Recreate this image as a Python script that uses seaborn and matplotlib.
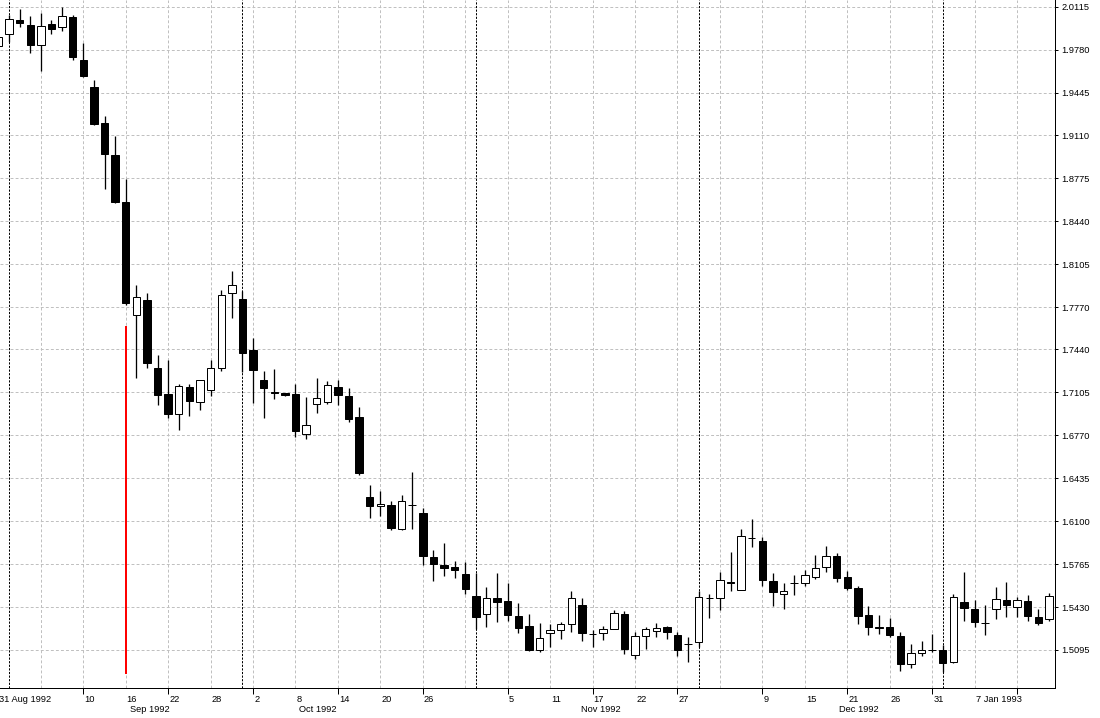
import numpy as np
import pandas as pd
import matplotlib
matplotlib.use('Agg')
import matplotlib.pyplot as plt
import seaborn as sns

# daily bars, 31 Aug 1992 .. mid Jan 1993 (one entry per trading day)
opens = [1.9811, 1.9904, 2.0011, 1.9972, 1.9819, 1.9980, 1.9954, 2.0035, 1.9699, 1.9488,
         1.9207, 1.8958, 1.8591, 1.7707, 1.7826, 1.7296, 1.7093, 1.6934, 1.7145, 1.7033,
         1.7122, 1.7293, 1.7881, 1.7834, 1.7436, 1.7202, 1.7105, 1.7098, 1.7093, 1.6778,
         1.7012, 1.7033, 1.7147, 1.7077, 1.6911, 1.6289, 1.6216, 1.6227, 1.6037, 1.6224,
         1.6164, 1.5821, 1.5758, 1.5743, 1.5688, 1.5517, 1.5374, 1.5501, 1.5477, 1.5360,
         1.5282, 1.5093, 1.5230, 1.5249, 1.5296, 1.5444, 1.5222, 1.5225, 1.5257, 1.5374,
         1.5054, 1.5202, 1.5246, 1.5272, 1.5212, 1.5142, 1.5160, 1.5504, 1.5503, 1.5622,
         1.5561, 1.5971, 1.5946, 1.5634, 1.5534, 1.5618, 1.5620, 1.5667, 1.5739, 1.5826,
         1.5665, 1.5579, 1.5366, 1.5275, 1.5275, 1.5204, 1.4984, 1.5069, 1.5096, 1.5095,
         1.5001, 1.5470, 1.5415, 1.5304, 1.5417, 1.5485, 1.5428, 1.5477, 1.5350, 1.5335]
highs = [1.9894, 2.0050, 2.0097, 2.0042, 2.0066, 2.0011, 2.0115, 2.0050, 1.9829, 1.9543,
         1.9262, 1.9106, 1.8770, 1.7943, 1.7881, 1.7397, 1.7360, 1.7171, 1.7171, 1.7202,
         1.7358, 1.7904, 1.8053, 1.7897, 1.7530, 1.7272, 1.7288, 1.7103, 1.7171, 1.7069,
         1.7218, 1.7194, 1.7200, 1.7137, 1.6991, 1.6383, 1.6336, 1.6258, 1.6305, 1.6484,
         1.6203, 1.5875, 1.5930, 1.5790, 1.5782, 1.5698, 1.5587, 1.5698, 1.5620, 1.5462,
         1.5376, 1.5303, 1.5298, 1.5316, 1.5556, 1.5500, 1.5251, 1.5282, 1.5407, 1.5399,
         1.5238, 1.5275, 1.5306, 1.5285, 1.5236, 1.5197, 1.5556, 1.5534, 1.5704, 1.5860,
         1.6039, 1.6117, 1.5975, 1.5696, 1.5618, 1.5680, 1.5719, 1.5836, 1.5907, 1.5854,
         1.5712, 1.5592, 1.5438, 1.5366, 1.5345, 1.5238, 1.5142, 1.5165, 1.5220, 1.5134,
         1.5534, 1.5704, 1.5485, 1.5446, 1.5584, 1.5626, 1.5511, 1.5524, 1.5415, 1.5538]
lows = [1.9801, 1.9842, 1.9959, 1.9756, 1.9613, 1.9904, 1.9928, 1.9699, 1.9564, 1.9194,
        1.8695, 1.8583, 1.7787, 1.7220, 1.7298, 1.7009, 1.6908, 1.6814, 1.6923, 1.6970,
        1.7075, 1.7275, 1.7688, 1.7262, 1.7025, 1.6908, 1.7056, 1.7077, 1.6755, 1.6744,
        1.6947, 1.7012, 1.7005, 1.6872, 1.6458, 1.6127, 1.6143, 1.6034, 1.6035, 1.6042,
        1.5756, 1.5636, 1.5675, 1.5659, 1.5534, 1.5257, 1.5277, 1.5316, 1.5321, 1.5225,
        1.5090, 1.5082, 1.5116, 1.5179, 1.5238, 1.5165, 1.5121, 1.5176, 1.5256, 1.5066,
        1.5027, 1.5105, 1.5194, 1.5183, 1.5051, 1.5004, 1.5121, 1.5342, 1.5410, 1.5558,
        1.5560, 1.5901, 1.5595, 1.5438, 1.5417, 1.5527, 1.5595, 1.5652, 1.5704, 1.5626,
        1.5563, 1.5296, 1.5210, 1.5222, 1.5199, 1.4934, 1.4957, 1.5051, 1.5082, 1.4926,
        1.4996, 1.5324, 1.5277, 1.5214, 1.5339, 1.5355, 1.5355, 1.5324, 1.5292, 1.5319]
closes = [1.9876, 2.0017, 1.9990, 1.9819, 1.9962, 1.9943, 2.0040, 1.9725, 1.9577, 1.9202,
          1.8968, 1.8593, 1.7800, 1.7847, 1.7337, 1.7087, 1.6939, 1.7153, 1.7040, 1.7200,
          1.7293, 1.7863, 1.7941, 1.7415, 1.7282, 1.7142, 1.7097, 1.7087, 1.6806, 1.6849,
          1.7059, 1.7161, 1.7087, 1.6900, 1.6479, 1.6221, 1.6234, 1.6049, 1.6255, 1.6223,
          1.5831, 1.5769, 1.5737, 1.5722, 1.5571, 1.5355, 1.5501, 1.5472, 1.5370, 1.5269,
          1.5095, 1.5189, 1.5249, 1.5296, 1.5499, 1.5230, 1.5218, 1.5257, 1.5382, 1.5105,
          1.5202, 1.5257, 1.5264, 1.5233, 1.5097, 1.5141, 1.5506, 1.5500, 1.5639, 1.5619,
          1.5982, 1.5967, 1.5644, 1.5550, 1.5556, 1.5617, 1.5678, 1.5733, 1.5826, 1.5659,
          1.5581, 1.5363, 1.5277, 1.5264, 1.5214, 1.4988, 1.5069, 1.5093, 1.5098, 1.4996,
          1.5506, 1.5425, 1.5316, 1.5302, 1.5491, 1.5444, 1.5485, 1.5363, 1.5303, 1.5514]

# red vertical marker on 16 Sep 1992
marker_bar = 12
marker_low = 1.4908
marker_high = 1.7623

price_ticks = [2.0115, 1.9780, 1.9445, 1.9110, 1.8775, 1.8440, 1.8105, 1.7770,
               1.7440, 1.7105, 1.6770, 1.6435, 1.6100, 1.5765, 1.5430, 1.5095]

# first bar of each month
month_start_bars = [1, 23, 45, 66, 89]

date_label_bars = [0, 8, 12, 16, 20, 24, 28, 32, 36, 40, 48, 52, 56, 60, 64,
                   72, 76, 80, 84, 88, 92]
date_labels = ['31 Aug 1992', '10', '16', '22', '28', '2', '8', '14', '20', '26',
               '5', '11', '17', '22', '27', '9', '15', '21', '26', '31', '7 Jan 1993']
month_label_bars = [12.38, 28.33, 54.88, 79.26]
month_labels = ['Sep 1992', 'Oct 1992', 'Nov 1992', 'Dec 1992']

df = pd.DataFrame({'open': opens, 'high': highs, 'low': lows, 'close': closes})
df['bar'] = np.arange(len(df))
df['up'] = df['close'] >= df['open']

sns.set_theme(style='white')
plt.rcParams['font.family'] = ['Liberation Sans', 'DejaVu Sans']
plt.rcParams['font.size'] = 6.7

px = 0.72  # one pixel in points at 100 dpi

fig = plt.figure(figsize=(11, 7.18), dpi=100)
ax = fig.add_axes([0, 0.0414, 0.9588, 0.9586])
ax.set_facecolor('white')

# grid every 4 bars and at each price level
for b in range(4, len(df), 4):
    ax.axvline(b, color='#c0c0c0', lw=px, dashes=(4 * px, 3 * px), zorder=0)
for p in price_ticks:
    ax.axhline(p, color='#c0c0c0', lw=px, dashes=(4 * px, 3 * px), zorder=0)

# period separators
for b in month_start_bars:
    ax.axvline(b, color='black', lw=px, dashes=(3 * px, 2 * px), zorder=1)

# candles
ax.vlines(df['bar'], df['low'], df['high'], color='black', lw=1.3 * px, zorder=2)
body_bottom = df[['open', 'close']].min(axis=1)
body_height = (df['close'] - df['open']).abs().clip(lower=0.00005)
ax.bar(df['bar'], body_height, bottom=body_bottom, width=0.7,
       color=np.where(df['up'], 'white', 'black'), edgecolor='black',
       linewidth=px, zorder=3)

ax.vlines(marker_bar, marker_low, marker_high, color='red', lw=2 * px, zorder=4)

ax.set_xlim(0.151, 99.55)
ax.set_ylim(1.47962, 2.01673)

for side in ['top', 'left']:
    ax.spines[side].set_visible(False)
for side in ['right', 'bottom']:
    ax.spines[side].set_visible(True)
    ax.spines[side].set_color('black')
    ax.spines[side].set_linewidth(px)

ax.yaxis.tick_right()
ax.set_yticks(price_ticks, labels=[f'{p:.4f}' for p in price_ticks])
ax.tick_params(axis='y', right=True, left=False, direction='out', length=3 * px,
               width=px, pad=2.5, colors='black', labelsize=6.7)
ax.set_xticks(range(8, len(df), 8), labels=[])
ax.tick_params(axis='x', bottom=True, direction='out', length=6 * px, width=px,
               colors='black')

for b, t in zip(date_label_bars, date_labels):
    ax.annotate(t, xy=(b, 0), xycoords=('data', 'axes fraction'),
                xytext=(1 * px, -6.5 * px), textcoords='offset points',
                ha='left', va='top', fontsize=6.7, color='black', annotation_clip=False)
for b, t in zip(month_label_bars, month_labels):
    ax.annotate(t, xy=(b, 0), xycoords=('data', 'axes fraction'),
                xytext=(0, -17 * px), textcoords='offset points',
                ha='left', va='top', fontsize=6.7, color='black', annotation_clip=False)

fig.savefig('out.png', dpi=100, facecolor='white')
